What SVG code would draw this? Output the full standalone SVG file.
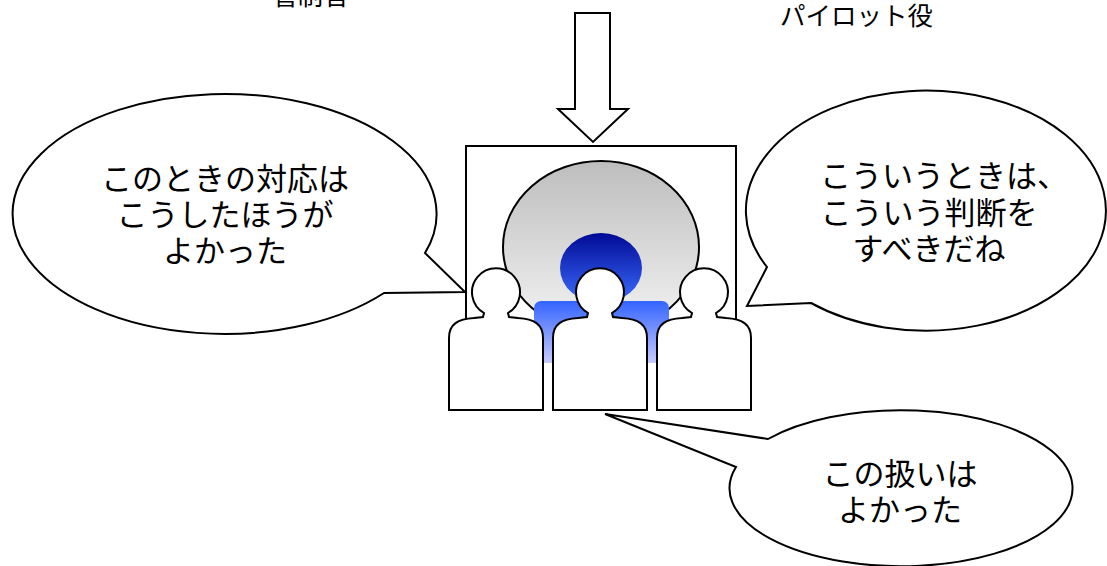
<svg xmlns="http://www.w3.org/2000/svg" xmlns:xlink="http://www.w3.org/1999/xlink" width="1107" height="566" viewBox="0 0 1107 566">
  <style>
    .ln { fill: #fff; stroke: #000; stroke-width: 2; stroke-linejoin: miter; }
    .txt { font-family: "Noto Sans CJK JP", "Noto Sans CJK SC", sans-serif; fill: #000; }
    .big { font-size: 31px; text-anchor: middle; }
    .small { font-size: 25.5px; }
  </style>
  <defs>
    <linearGradient id="gGrey" x1="0" y1="0" x2="0" y2="1">
      <stop offset="0" stop-color="#bdbdbd"/>
      <stop offset="1" stop-color="#f4f4f4"/>
    </linearGradient>
    <linearGradient id="gNavy" x1="0" y1="0" x2="0" y2="1">
      <stop offset="0" stop-color="#000a94"/>
      <stop offset="1" stop-color="#3c6dff"/>
    </linearGradient>
    <linearGradient id="gSeat" x1="0" y1="0" x2="0" y2="1">
      <stop offset="0" stop-color="#3364ff"/>
      <stop offset="1" stop-color="#c6caff"/>
    </linearGradient>
    <!-- person silhouette, centred on x = 0 -->
    <path id="person" class="ln" d="M -47 410 L -47 338 C -47 324 -38 319 -22 318 L -13 317 L -12 313 A 24 24 0 1 1 12 313 L 13 317 L 22 318 C 38 319 47 324 47 338 L 47 410 Z"/>
  </defs>

  <rect width="1107" height="566" fill="#fff"/>

  <!-- labels at the top -->
  <g id="label-controller">
    <text class="txt small" x="272" y="5">管制官</text>
  </g>
  <g id="label-pilot">
    <text class="txt small" x="780" y="25">パイロット役</text>
  </g>

  <!-- big down arrow -->
  <g id="arrow-down">
    <path class="ln" d="M 575 13 L 610 13 L 610 109 L 628 109 L 593 142 L 558 109 L 575 109 Z"/>
  </g>

  <!-- screen with the debriefing scene -->
  <g id="screen">
    <rect class="ln" x="466" y="146" width="270" height="190"/>
    <ellipse cx="601" cy="247" rx="98" ry="86" fill="url(#gGrey)" stroke="#000" stroke-width="2"/>
    <ellipse cx="601" cy="268" rx="41" ry="35" fill="url(#gNavy)"/>
    <rect x="534" y="301" width="135" height="62" rx="7" fill="url(#gSeat)"/>
  </g>

  <g id="person-left"><use xlink:href="#person" transform="translate(496 0)"/></g>
  <g id="person-center"><use xlink:href="#person" transform="translate(600 0)"/></g>
  <g id="person-right"><use xlink:href="#person" transform="translate(704 0)"/></g>

  <!-- speech bubbles -->
  <g id="bubble-left">
    <path class="ln" d="M 425 253 L 465 292 L 384 293 A 212 120 0 1 1 425 253 Z"/>
    <text class="txt big" x="225" y="190">このときの対応は</text>
    <text class="txt big" x="225" y="226">こうしたほうが</text>
    <text class="txt big" x="225" y="262">よかった</text>
  </g>

  <g id="bubble-right">
    <path class="ln" d="M 767 267 L 747 306 L 811 303 A 180 120 0 1 0 767 267 Z"/>
    <text class="txt big" x="944" y="187">こういうときは、</text>
    <text class="txt big" x="929" y="224">こういう判断を</text>
    <text class="txt big" x="929" y="260">すべきだね</text>
  </g>

  <g id="bubble-bottom">
    <path class="ln" d="M 768 439 L 605 414 L 736 467 A 171.5 78 0 1 0 768 439 Z"/>
    <text class="txt big" x="900" y="485">この扱いは</text>
    <text class="txt big" x="900" y="521">よかった</text>
  </g>
</svg>
